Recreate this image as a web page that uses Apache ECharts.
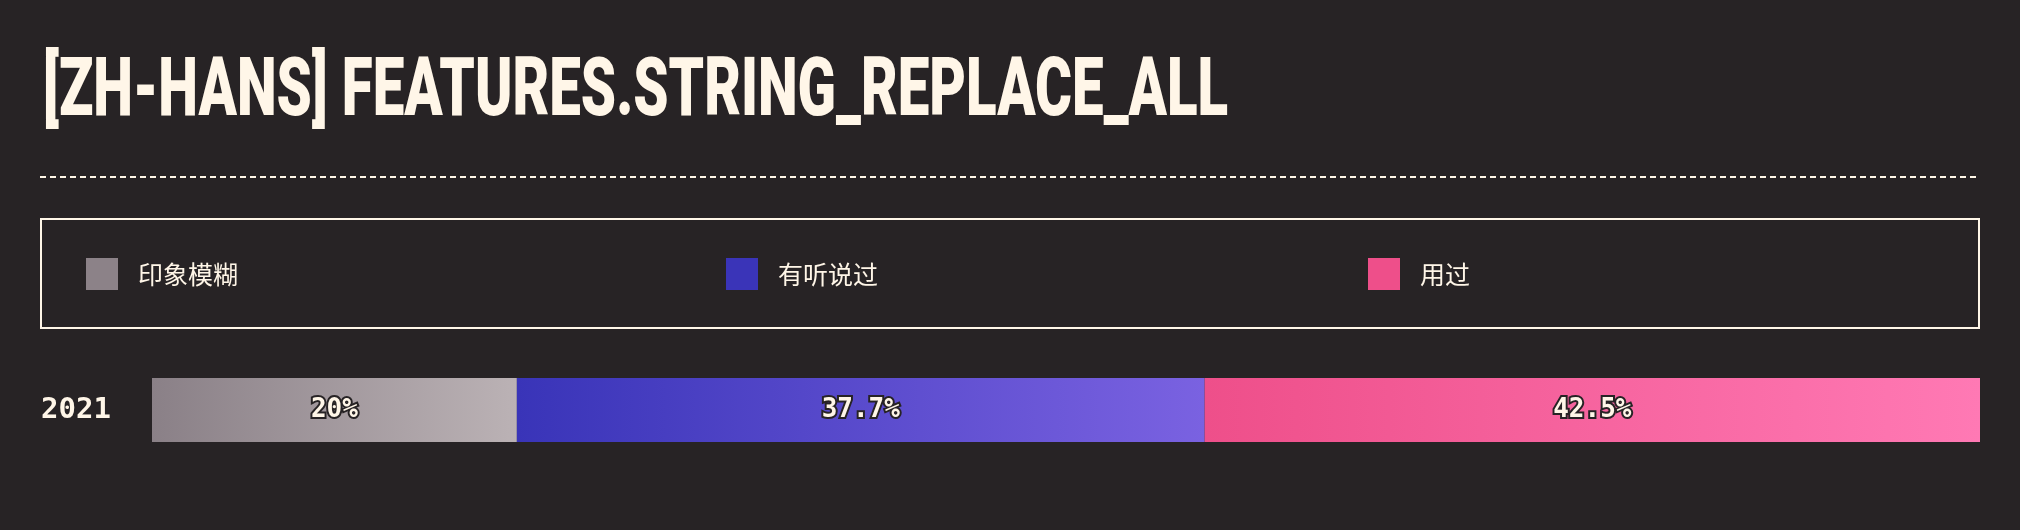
<!DOCTYPE html>
<html>
<head>
<meta charset="utf-8">
<script src="https://cdn.jsdelivr.net/npm/echarts@6/dist/echarts.min.js"></script>
<style>
  html, body { margin: 0; padding: 0; background: #272325; }
  #chart { width: 2020px; height: 530px; }
</style>
</head>
<body>
<div id="chart"></div>
<script>
const titleText = '[ZH-HANS] FEATURES.STRING_REPLACE_ALL';
const categories = ['2021'];
const seriesNames = ['印象模糊', '有听说过', '用过'];
const valuesVague = [20];
const valuesHeard = [37.7];
const valuesUsed = [42.5];
const legendColors = ['#8c8288', '#3a34b8', '#ee4f8a'];
const gradientStops = [
  ['#8a8087', '#bbb2b5'],
  ['#3934b8', '#7a62e1'],
  ['#ee4f8a', '#ff79b4']
];

const cream = '#fff6e8';
const bg = '#272325';
const allValues = [valuesVague, valuesHeard, valuesUsed];
const total = allValues.reduce((s, arr) => s + arr[0], 0);

const chart = echarts.init(document.getElementById('chart'));

function grad(i) {
  return new echarts.graphic.LinearGradient(0, 0, 1, 0, [
    { offset: 0, color: gradientStops[i][0] },
    { offset: 1, color: gradientStops[i][1] }
  ]);
}

const legendLefts = [86, 726, 1368];
const legends = seriesNames.map((n, i) => ({
  show: true,
  left: legendLefts[i],
  top: 258,
  padding: 0,
  itemWidth: 32,
  itemHeight: 32,
  icon: 'rect',
  data: [{ name: n, itemStyle: { color: legendColors[i] } }],
  textStyle: {
    color: cream,
    fontSize: 25,
    fontFamily: 'Noto Sans CJK SC',
    padding: [0, 0, 0, 15]
  },
  selectedMode: false
}));

const series = seriesNames.map((n, i) => ({
  name: n,
  type: 'bar',
  stack: 'total',
  barWidth: 64,
  data: allValues[i],
  itemStyle: { color: grad(i) },
  label: {
    show: true,
    position: 'inside',
    formatter: '{c}%',
    color: cream,
    fontFamily: 'DejaVu Sans Mono',
    fontWeight: 'bold',
    fontSize: 26,
    textBorderColor: bg,
    textBorderWidth: 4
  },
  emphasis: { disabled: true }
}));

chart.setOption({
  backgroundColor: bg,
  animation: false,
  legend: legends,
  grid: { left: 152, right: 40, top: 378, height: 64 },
  xAxis: {
    type: 'value',
    min: 0,
    max: total,
    show: false
  },
  yAxis: {
    type: 'category',
    data: categories,
    axisLine: { show: false },
    axisTick: { show: false },
    axisLabel: {
      align: 'left',
      margin: 111,
      color: cream,
      fontFamily: 'DejaVu Sans Mono',
      fontWeight: 'bold',
      fontSize: 29
    }
  },
  graphic: [
    {
      type: 'text',
      x: 43,
      y: 94,
      scaleX: 0.688,
      style: {
        text: titleText,
        font: '900 82px Roboto',
        fill: cream,
        verticalAlign: 'middle',
        align: 'left'
      }
    },
    {
      type: 'line',
      shape: { x1: 40, y1: 177, x2: 1980, y2: 177 },
      style: { stroke: cream, lineWidth: 2, lineDash: [6, 4] }
    },
    {
      type: 'rect',
      shape: { x: 41, y: 219, width: 1938, height: 109 },
      style: { fill: 'none', stroke: cream, lineWidth: 2 }
    }
  ],
  series: series
});
</script>
</body>
</html>
